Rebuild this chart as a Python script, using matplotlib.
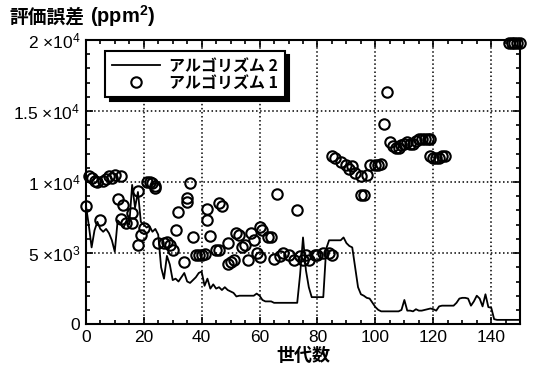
import numpy as np
import matplotlib
matplotlib.use("Agg")
import matplotlib.pyplot as plt
from matplotlib.ticker import MultipleLocator, FixedLocator, FixedFormatter

plt.rcParams['font.family'] = ['Liberation Sans', 'Noto Sans CJK JP', 'DejaVu Sans']
plt.rcParams['mathtext.fontset'] = 'custom'
plt.rcParams['mathtext.rm'] = 'Liberation Sans'
plt.rcParams['mathtext.it'] = 'Liberation Sans'
plt.rcParams['mathtext.bf'] = 'Liberation Sans:bold'

# algorithm 2: error per generation (line), values in units of 1e3
gen2 = np.arange(0, 151)
err2_k = [8.4, 7.0, 5.4, 6.6, 7.2, 6.7, 6.5, 6.7, 6.4, 5.9,
          5.1, 7.3, 7.1, 6.8, 7.2, 7.0, 9.8, 8.2, 9.3, 7.2,
          7.0, 6.8, 6.9, 6.5, 6.7, 6.3, 4.0, 3.2, 4.8, 4.2,
          3.1, 3.2, 3.0, 3.3, 3.6, 3.0, 2.9, 3.1, 3.3, 3.6,
          3.7, 2.7, 3.2, 2.5, 2.8, 2.5, 2.6, 2.4, 2.6, 2.4,
          2.3, 2.2, 1.95, 2.0, 2.0, 2.0, 2.0, 2.0, 2.0, 2.15,
          2.0, 1.7, 1.6, 1.6, 1.6, 1.5, 1.5, 1.5, 1.5, 1.5,
          1.5, 1.5, 1.5, 1.5, 3.5, 6.1, 3.8, 2.6, 1.9, 1.9,
          1.9, 1.9, 1.9, 5.3, 5.9, 5.9, 5.9, 5.9, 5.9, 6.1,
          5.7, 5.5, 5.4, 4.0, 2.6, 2.1, 2.0, 1.85, 1.8, 1.5,
          1.2, 1.0, 0.9, 0.9, 0.9, 0.9, 0.9, 0.9, 0.9, 1.0,
          1.7, 0.95, 0.95, 0.9, 1.05, 0.95, 0.95, 1.0, 1.05, 1.1,
          1.05, 0.95, 1.25, 1.3, 1.3, 1.3, 1.3, 1.3, 1.5, 1.8,
          1.85, 1.85, 1.8, 1.3, 1.6, 2.0, 1.8, 1.25, 2.1, 1.2,
          1.15, 0.35, 0.3, 0.3, 0.3, 0.3, 0.3, 0.3, 0.3, 0.3,
          0.3]

# algorithm 1: scattered evaluations (circles), values in units of 1e3
gen1 = [0, 1, 2, 3, 4, 5, 6, 7, 8, 9, 10, 11, 12, 12, 13, 14, 16, 16, 18, 18,
        19, 20, 21, 22, 23, 24, 24, 25, 27, 28, 29, 30, 31, 32, 34, 35, 35, 36, 37, 38,
        39, 40, 41, 42, 42, 43, 45, 46, 46, 47, 49, 49, 50, 51, 52, 53, 54, 55, 56, 57,
        58, 59, 60, 60, 61, 63, 64, 65, 66, 67, 68, 70, 72, 73, 74, 75, 76, 77, 79, 80,
        82, 84, 85, 85, 86, 88, 90, 91, 92, 93, 95, 95, 96, 97, 98, 100, 101, 102, 103, 104,
        105, 106, 107, 108, 109, 110, 111, 112, 113, 114, 115, 116, 117, 118, 119, 119, 120, 121, 122, 123,
        124, 146, 147, 148, 149, 150]
err1_k = [8.3, 10.4, 10.3, 10.1, 10.0, 7.3, 10.1, 10.2, 10.4, 10.3, 10.5, 8.8, 10.4, 7.4, 8.4, 7.1, 7.85, 7.1, 5.6, 9.4,
          6.3, 6.8, 10.0, 10.0, 9.9, 9.7, 9.55, 5.7, 5.7, 5.8, 5.6, 5.2, 6.6, 7.9, 4.4, 8.6, 8.85, 9.9, 6.1, 4.9,
          4.9, 4.9, 4.95, 8.1, 7.3, 6.2, 5.2, 5.2, 8.5, 8.3, 5.7, 4.2, 4.4, 4.5, 6.4, 6.3, 5.4, 5.6, 4.5, 6.4,
          5.9, 5.0, 6.85, 4.7, 6.6, 6.15, 6.1, 4.6, 9.15, 4.8, 5.0, 4.9, 4.5, 8.0, 4.8, 4.5, 4.9, 4.5, 4.9, 4.9,
          5.0, 5.0, 4.9, 11.8, 11.7, 11.4, 11.2, 10.95, 11.1, 10.6, 10.4, 9.1, 9.1, 10.5, 11.2, 11.2, 11.2, 11.25, 14.1, 16.3,
          12.8, 12.5, 12.4, 12.4, 12.6, 12.7, 12.8, 12.7, 12.7, 12.9, 13.0, 13.0, 13.0, 13.0, 13.0, 11.8, 11.7, 11.7, 11.7, 11.8,
          11.8, 19.8, 19.8, 19.8, 19.75, 19.75]

err2 = np.array(err2_k) * 1000
err1 = np.array(err1_k) * 1000

ytick_vals = [0, 5000, 10000, 15000, 20000]
ytick_labels = ['0', r'5 $\times$10$^{3}$', r'1 $\times$10$^{4}$',
                r'1.5 $\times$10$^{4}$', r'2 $\times$10$^{4}$']

jp = ['Noto Sans CJK JP', 'DejaVu Sans']

fig = plt.figure(figsize=(5.33, 3.73), dpi=100)
ax = fig.add_axes([0.161, 0.131, 0.815, 0.762])

ax.plot(gen2, err2, color='black', lw=1.3, label='アルゴリズム 2', zorder=3)
ax.plot(gen1, err1, 'o', ms=7.5, mfc='none', mec='black', mew=1.5,
        label='アルゴリズム 1', clip_on=False, zorder=4)

ax.set_xlim(0, 150)
ax.set_ylim(0, 20000)
ax.xaxis.set_major_locator(MultipleLocator(20))
ax.xaxis.set_minor_locator(MultipleLocator(5))
ax.yaxis.set_major_locator(FixedLocator(ytick_vals))
ax.yaxis.set_major_formatter(FixedFormatter(ytick_labels))
ax.yaxis.set_minor_locator(MultipleLocator(1000))

ax.grid(True, which='major', ls=':', color='black', lw=1.1)
ax.tick_params(which='both', direction='in', top=True, right=True,
               labelsize=12.5, width=1.2, colors='black')
ax.tick_params(which='major', length=5, pad=4)
ax.tick_params(which='minor', length=3)
for s in ax.spines.values():
    s.set_linewidth(1.5)

ax.set_xlabel('世代数', fontsize=13, fontweight='bold', labelpad=1, family=jp)
fig.text(0.018, 0.955, '評価誤差', fontsize=13.5, fontweight='bold',
         family=jp, va='center')
fig.text(0.168, 0.958, r'(ppm$^{\mathbf{2}}$)', fontsize=14.5, fontweight='bold',
         va='center')

leg = ax.legend(loc='upper left', bbox_to_anchor=(0.045, 0.96), borderaxespad=0,
                frameon=True, fancybox=False, edgecolor='black', framealpha=1,
                shadow={'color': 'black', 'alpha': 1, 'ox': 3, 'oy': -3},
                borderpad=0.4, handlelength=3.0, handletextpad=0.6,
                labelspacing=0.05, prop={'family': jp, 'weight': 'bold', 'size': 11.5})
leg.get_frame().set_linewidth(1.5)
leg.set_zorder(10)

fig.savefig('out.png', dpi=100)
